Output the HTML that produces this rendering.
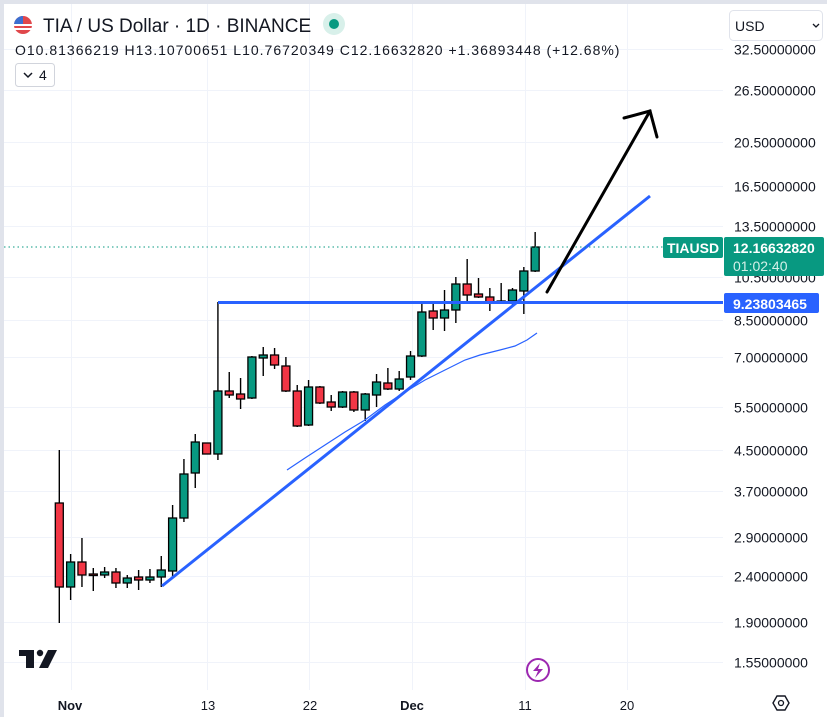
<!DOCTYPE html>
<html><head><meta charset="utf-8"><style>
html,body{margin:0;padding:0;background:#fff;}
body{width:827px;height:717px;overflow:hidden;position:relative;font-family:"Liberation Sans","DejaVu Sans",sans-serif;}
svg{position:absolute;left:0;top:0;}
text{font-family:"Liberation Sans","DejaVu Sans",sans-serif;}
</style></head><body>
<svg id="s" width="827" height="717" viewBox="0 0 827 717" xmlns="http://www.w3.org/2000/svg">
<rect x="0" y="0" width="827" height="717" fill="#fff"/>
<rect x="0" y="0" width="827" height="4" fill="#e0e3eb"/>
<rect x="0" y="0" width="4" height="717" fill="#e0e3eb"/>
<g id="grid" stroke="#f0f3fa" stroke-width="1"></g>
<g id="candles"></g>
<polyline points="287,470 305,458 325,445 345,432 365,420 385,405 405,392 425,380 445,370 465,360 480,355 500,350 515,346 527,340 537,333" fill="none" stroke="#2962ff" stroke-width="1.2"/>
<line x1="218" y1="302.5" x2="723" y2="302.5" stroke="#2962ff" stroke-width="3"/>
<line x1="162" y1="586" x2="650" y2="196" stroke="#2962ff" stroke-width="3"/>
<line x1="4" y1="247" x2="663" y2="247" stroke="#089981" stroke-width="1" stroke-dasharray="1.5,3"/>
<g stroke="#000" stroke-width="3" fill="none" stroke-linecap="round">
<line x1="547" y1="292" x2="650" y2="111"/>
<polyline points="624,118 650,111 657,137"/>
</g>
<g>
<circle cx="23" cy="25" r="9" fill="#e0474b"/>
<path d="M14,25 a9,9 0 0 1 9,-9 v9 z" fill="#3b6fd1"/>
<rect x="14" y="24" width="18" height="2" fill="#fff"/>
<rect x="14" y="28" width="18" height="2" fill="#fff"/>
<text x="43" y="32" font-size="19" fill="#131722">TIA / US Dollar · 1D · BINANCE</text>
<circle cx="334" cy="24" r="11" fill="#d8f0ea"/>
<circle cx="334" cy="24" r="5" fill="#089981"/>
<text x="15" y="55" font-size="14" fill="#131722" letter-spacing="1">O10.81366219  H13.10700651  L10.76720349  C12.16632820  +1.36893448 (+12.68%)</text>
<rect x="15.5" y="63.5" width="39" height="23" rx="3" fill="#fff" stroke="#d1d4dc"/>
<polyline points="24,73 28,77 32,73" fill="none" stroke="#131722" stroke-width="1.5"/>
<text x="39" y="80" font-size="14" fill="#131722">4</text>
</g>
<rect x="729.5" y="10.5" width="93" height="30" rx="4" fill="#fff" stroke="#e0e3eb"/>
<text x="735" y="31" font-size="14" fill="#131722">USD</text>
<polyline points="813,24 816,27 819,24" fill="none" stroke="#131722" stroke-width="1.3"/>
<g id="axis" font-size="14" fill="#131722"></g>
<rect x="663" y="237" width="60" height="21" rx="2" fill="#089981"/>
<text x="693" y="253" font-size="14" font-weight="bold" fill="#fff" text-anchor="middle">TIAUSD</text>
<rect x="724" y="237" width="100" height="39" rx="2" fill="#089981"/>
<text x="733" y="253" font-size="14" font-weight="bold" fill="#fff">12.16632820</text>
<text x="733" y="271" font-size="14" fill="#d4f0e8">01:02:40</text>
<rect x="724" y="293" width="95" height="20" rx="2" fill="#2962ff"/>
<text x="733" y="309" font-size="14" font-weight="bold" fill="#fff">9.23803465</text>
<g font-size="13" fill="#131722" text-anchor="middle">
<text x="70" y="710" font-weight="bold">Nov</text>
<text x="208" y="710">13</text>
<text x="310" y="710">22</text>
<text x="412" y="710" font-weight="bold">Dec</text>
<text x="525" y="710">11</text>
<text x="627" y="710">20</text>
</g>
<polygon points="773,703 777,696 785,696 789,703 785,710 777,710" fill="none" stroke="#131722" stroke-width="1.4"/>
<circle cx="781" cy="703" r="2.5" fill="none" stroke="#131722" stroke-width="1.3"/>
<circle cx="538" cy="670" r="11" fill="#fff" stroke="#9c27b0" stroke-width="2"/>
<polygon points="540,663 533,671 538,671 535,678 543,669 538,669" fill="#9c27b0"/>
<g fill="#131722">
<rect x="19" y="650" width="15" height="6"/>
<rect x="26" y="650" width="8" height="18"/>
<circle cx="40" cy="653" r="3.2"/>
<polygon points="48,650 57,650 48,668 39,668"/>
</g>
</svg>
<script>
var ns="http://www.w3.org/2000/svg";
function el(t,a,p){var e=document.createElementNS(ns,t);for(var k in a)e.setAttribute(k,a[k]);p.appendChild(e);return e;}
var grid=document.getElementById("grid");
[71.5,207.5,309.5,412.5,525.5,627.5].forEach(function(x){el("line",{x1:x,y1:4,x2:x,y2:690},grid);});
var levels=[[49.5,"32.50000000"],[90.5,"26.50000000"],[142.5,"20.50000000"],[186.5,"16.50000000"],[226.5,"13.50000000"],[277.5,"10.50000000"],[320.5,"8.50000000"],[357.5,"7.00000000"],[407.5,"5.50000000"],[450.5,"4.50000000"],[491.5,"3.70000000"],[537.5,"2.90000000"],[576.5,"2.40000000"],[622.5,"1.90000000"],[662.5,"1.55000000"]];
var ax=document.getElementById("axis");
levels.forEach(function(l){el("line",{x1:4,y1:l[0],x2:723,y2:l[0]},grid);var t=el("text",{x:734,y:l[0]+5},ax);t.textContent=l[1];});
var c=[
[503,587,450,623],[587,562,554,600],[562,575,538,587],[574,575,568,591],[575,572,567,578],
[572,583,568,588],[583,578,575,588],[577,580,570,590],[580,577,569,583],[577,570,556,587],
[571,518,505,578],[518,474,459,522],[473,442,434,488],[443,454,443,454],[454,391,302,460],
[391,395,372,398],[394,399,378,409],[398,357,356,399],[358,355,347,376],[355,365,348,369],
[366,391,357,392],[391,426,385,427],[425,387,380,426],[387,403,386,404],[402,407,395,411],
[407,392,391,408],[392,410,391,412],[410,394,393,421],[395,382,374,407],[383,389,368,390],
[389,379,371,391],[377,356,351,380],[356,312,303,357],[311,318,302,330],[318,310,290,331],
[310,284,277,323],[284,295,259,302],[294,297,278,298],[297,302,288,311],[301,302,283,303],
[301,290,288,307],[291,271,267,314],[271,247,232,272]];
var cg=document.getElementById("candles");
c.forEach(function(d,i){
 var x=59.3+11.33*i, up=d[1]<=d[0], col=up?"#089981":"#f23645";
 el("line",{x1:x,y1:d[2],x2:x,y2:d[3],stroke:"#000","stroke-width":1.4},cg);
 var top=Math.min(d[0],d[1]),h=Math.max(Math.abs(d[0]-d[1]),1.5);
 el("rect",{x:x-4,y:top,width:8,height:h,fill:col,stroke:"#000","stroke-width":1.3},cg);
});
</script>
</body></html>
